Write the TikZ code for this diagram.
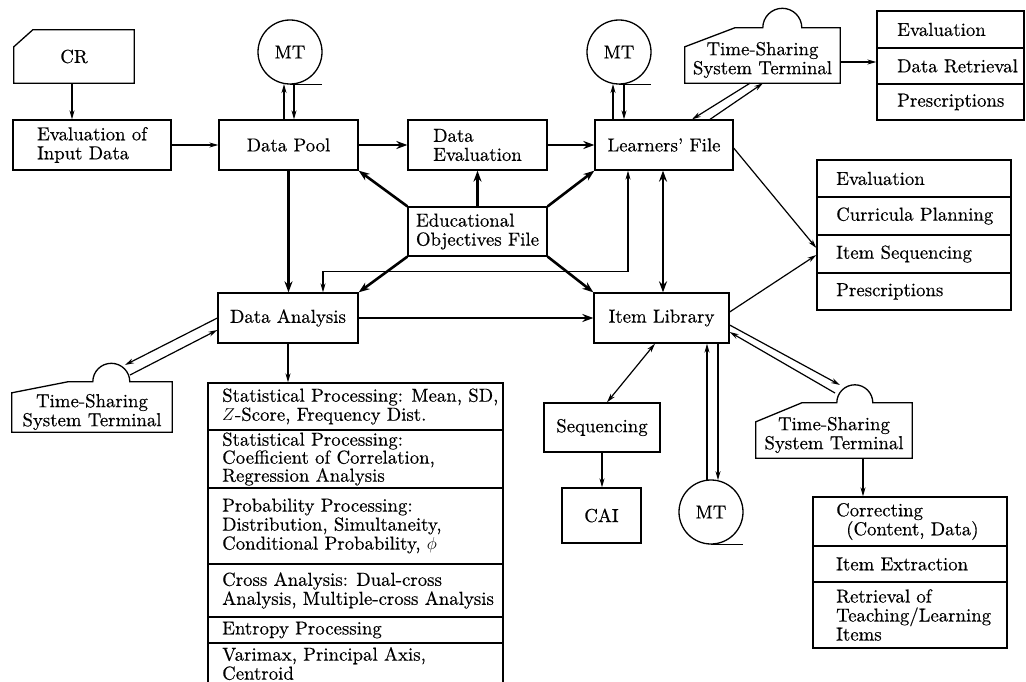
\documentclass[tikz,border=0pt]{standalone}
\usepackage{fontspec}
\newfontfamily\diafont{lmroman10-regular.otf}[Ligatures=TeX,FakeBold=0.4]
\usetikzlibrary{arrows.meta,calc}
\newcommand\tssoutline[5]{\draw[frame] (#1.south west) -- ($(#1.north west)+(0,-#2)$) -- ($(#1.north west)+(#3,0)$) -- ($(#1.north west)+(#4,0)$) arc[start angle=180,end angle=0,radius=#5] -- (#1.north east) -- (#1.south east) -- cycle;}
\begin{document}
\begin{tikzpicture}[x=1pt,y=1pt,
 txt/.style={font=\diafont\fontsize{18.8}{19}\selectfont, inner sep=0pt, align=left},
 frame/.style={line width=1.3pt, line join=miter},
 box/.style 2 args={txt, draw, frame, minimum width=#1, minimum height=#2},
 blank/.style 2 args={txt, minimum width=#1, minimum height=#2, align=center},
 tabframe/.style 2 args={draw, frame, minimum width=#1, minimum height=#2, inner sep=0pt},
 thinarr/.style={line width=1.2pt, -{Stealth[length=9pt,width=5pt]}},
 thinboth/.style={line width=1.2pt, {Stealth[length=9pt,width=5pt]}-{Stealth[length=9pt,width=5pt]}},
 thickarr/.style={line width=2.6pt, -{Stealth[length=11pt,width=8pt]}},
 thickboth/.style={line width=2.6pt, {Stealth[length=11pt,width=8pt]}-{Stealth[length=11pt,width=8pt]}},
 tape/.style={txt, draw, frame, circle, minimum size=64pt, align=center},
]
\useasboundingbox (0,0) rectangle (1026,-682);
\clip (0,0) rectangle (1026,-682);

% ---------- main boxes ----------
\node[blank={120}{53}] (CR) at (74,-56.5) {CR};
\draw[frame] (CR.south west) -- ($(CR.north west)+(0,-17)$) -- ($(CR.north west)+(19,0)$) -- (CR.north east) -- (CR.south east) -- cycle;
\node[box={158}{50}] (EI) at (92,-145) {Evaluation of\\Input Data};
\node[box={139}{50}] (DP) at (288.5,-145) {Data Pool};
\node[box={139}{50}] (DE) at (477.5,-145) {Data\\Evaluation};
\node[box={138}{50}] (LF) at (664,-145) {Learners' File};
\node[box={139}{49}] (EOF) at (477.5,-231.5) {Educational\\Objectives File};
\node[box={140}{50}] (DA) at (288,-318) {Data Analysis};
\node[box={135}{50}] (IL) at (661.5,-318) {Item Library};
\node[box={116}{49}] (SQ) at (602,-427.5) {Sequencing};
\node[box={79}{55}] (CAI) at (601.5,-515.5) {CAI};

% ---------- tapes ----------
\node[tape] (MT1) at (290,-52) {MT};
\node[tape] (MT2) at (619,-52) {MT};
\node[tape] (MT3) at (711,-512) {MT};
\draw[frame] (MT1.south) -- ++(32,0);
\draw[frame] (MT2.south) -- ++(32,0);
\draw[frame] (MT3.south) -- ++(32,0);

% ---------- terminals ----------
\node[blank={155}{55}] (TT) at (762.5,-55.5) {};
\node[txt, align=center] (TTtext) at ([yshift=-4.5pt]TT.center) {Time-Sharing\\System Terminal};
\tssoutline{TT}{19}{50}{78}{19.5}
\node[blank={160}{50}] (TL) at (92,-407) {};
\node[txt, align=center] (TLtext) at ([yshift=-5pt]TL.center) {Time-Sharing\\System Terminal};
\tssoutline{TL}{11}{56}{81}{18.5}
\node[blank={156}{55}] (TB) at (834,-430.5) {};
\node[txt, align=center] (TBtext) at ([yshift=-4.5pt]TB.center) {Time-Sharing\\System Terminal};
\tssoutline{TB}{19}{46}{81}{18}

% ---------- tables ----------
\node[tabframe={147}{109}] (TRT) at (950.5,-65.5) {};
\draw[frame] (877,-48) -- (1024,-48);
\draw[frame] (877,-84) -- (1024,-84);
\node[txt,anchor=west] (tr1) at (897,-29.5) {Evaluation};
\node[txt,anchor=west] (tr2) at (897,-66) {Data Retrieval};
\node[txt,anchor=west] (tr3) at (897,-102) {Prescriptions};

\node[tabframe={194}{150}] (MRT) at (914,-235) {};
\draw[frame] (817,-197) -- (1011,-197);
\draw[frame] (817,-235) -- (1011,-235);
\draw[frame] (817,-273) -- (1011,-273);
\node[txt,anchor=west] (mr1) at (836,-178.5) {Evaluation};
\node[txt,anchor=west] (mr2) at (836,-216) {Curricula Planning};
\node[txt,anchor=west] (mr3) at (836,-254) {Item Sequencing};
\node[txt,anchor=west] (mr4) at (836,-291.5) {Prescriptions};

\node[tabframe={194}{151}] (BRT) at (910,-572.5) {};
\draw[frame] (813,-546) -- (1007,-546);
\draw[frame] (813,-582) -- (1007,-582);
\node[txt,anchor=west] (br1) at (836,-521.5) {Correcting\\\hspace*{10pt}(Content, Data)};
\node[txt,anchor=west] (br2) at (836,-564) {Item Extraction};
\node[txt,anchor=west] (br3) at (836,-615) {Retrieval of\\Teaching/Learning\\Items};

\node[tabframe={295}{317}] (LST) at (355.5,-541.5) {};
\draw[frame] (208,-430) -- (503,-430);
\draw[frame] (208,-488) -- (503,-488);
\draw[frame] (208,-564) -- (503,-564);
\draw[frame] (208,-617) -- (503,-617);
\draw[frame] (208,-643) -- (503,-643);
\node[txt,anchor=west] (ls1) at (222,-406.5) {Statistical Processing: Mean, SD,\\$Z$-Score, Frequency Dist.};
\node[txt,anchor=west,font=\diafont\fontsize{18.8}{18}\selectfont] (ls2) at (222,-459) {Statistical Processing:\\Coefficient of Correlation,\\Regression Analysis};
\node[txt,anchor=west] (ls3) at (222,-526) {Probability Processing:\\Distribution, Simultaneity,\\Conditional Probability, $\phi$};
\node[txt,anchor=west] (ls4) at (222,-590.5) {Cross Analysis: Dual-cross\\Analysis, Multiple-cross Analysis};
\node[txt,anchor=west] (ls5) at (222,-630) {Entropy Processing};
\node[txt,anchor=north west] (ls6) at (222,-647) {Varimax, Principal Axis,\\Centroid};

% ---------- connectors ----------
\draw[thinarr] ([xshift=-2pt]CR.south) -- ([xshift=-2pt]CR.south |- EI.north);
\draw[thinarr] (EI.east) -- (DP.west);
\draw[thickarr] (DP.east) -- (DE.west);
\draw[thickarr] (DE.east) -- (LF.west);
\draw[thickarr] (DP.south) -- (DP.south |- DA.north);
\draw[thickarr] (EOF.north west) -- (DP.south east);
\draw[thickarr] (EOF.north) -- (DE.south);
\draw[thickarr] (EOF.north east) -- (LF.south west);
\draw[thickarr] (EOF.south west) -- (DA.north east);
\draw[thickarr] (EOF.south east) -- (IL.north west);
\draw[thinboth] ([xshift=-36pt]LF.south) |- ([xshift=35pt,yshift=21pt]DA.north) -- ([xshift=35pt]DA.north);
\draw[thickboth] ([xshift=-1pt]LF.south) -- ([xshift=-1pt]LF.south |- IL.north);
\draw[thickarr] (DA.east) -- (IL.west);
\draw[thinarr] (DA.south) -- (DA.south |- LST.north);
\draw[thinarr] (DA.west) -- ($(TL.center)+(33,42)$);
\draw[thinarr] ($(TL.center)+(38,32)$) -- ([yshift=-12pt]DA.west);
\draw[thinboth] ([xshift=-6.5pt]IL.south) -- ([xshift=5pt]SQ.north);
\draw[thinarr] (SQ.south) -- (SQ.south |- CAI.north);
\draw[thinarr] ([xshift=-4pt,yshift=-0.3pt]MT3.north) -- ([xshift=-4pt]MT3.north |- IL.south);
\draw[thinarr] ([xshift=7pt]MT3.north |- IL.south) -- ([xshift=7pt,yshift=-0.8pt]MT3.north);
\draw[thinarr] ([yshift=-7pt]IL.east) -- ($(TB.center)+(6,45.5)$);
\draw[thinarr] ($(TB.center)+(1,37.5)$) -- ([yshift=-14pt]IL.east);
\draw[thinarr] ([xshift=29pt]TB.south) -- ([xshift=29pt]TB.south |- BRT.north);
\draw[thinarr] ([yshift=6pt]IL.east) -- ([yshift=-20pt]MRT.west);
\draw[thinarr] ([yshift=-3pt]LF.east) -- ([yshift=-13pt]MRT.west);
\draw[thinarr] ([xshift=-12.5pt]TT.south) -- ([xshift=28pt]LF.north);
\draw[thinarr] ([xshift=46pt]LF.north) -- ([xshift=0.5pt]TT.south);
\draw[thinarr] ([yshift=-6.5pt]TT.east) -- ([yshift=-6.5pt]TT.east -| TRT.west);
\draw[thinarr] ([xshift=-4.5pt]DP.north) -- ([xshift=-4.5pt,yshift=0.6pt]DP.north |- MT1.south);
\draw[thinarr] ([xshift=5.5pt,yshift=0.4pt]DP.north |- MT1.south) -- ([xshift=5.5pt]DP.north);
\draw[thinarr] ([xshift=-51pt]LF.north) -- ([xshift=-51pt,yshift=0.6pt]LF.north |- MT2.south);
\draw[thinarr] ([xshift=-40pt,yshift=0.4pt]LF.north |- MT2.south) -- ([xshift=-40pt]LF.north);
\end{tikzpicture}
\end{document}
